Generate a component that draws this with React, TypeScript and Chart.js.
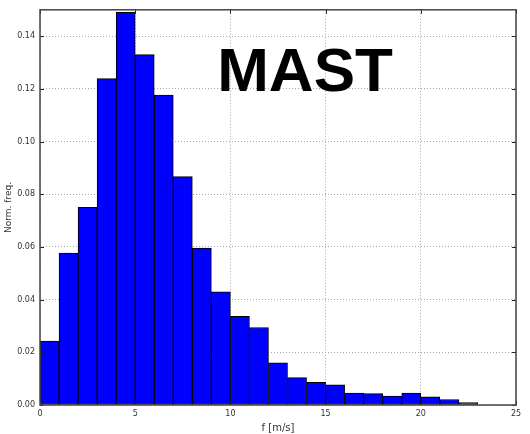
import React, { useEffect, useRef } from "react";
import { Chart, registerables } from "chart.js";

Chart.register(...registerables);

// Histogram bins: [start, start+1) in m/s
const binStarts = [0, 1, 2, 3, 4, 5, 6, 7, 8, 9, 10, 11, 12, 13, 14, 15, 16, 17, 18, 19, 20, 21, 22];
const normFreq = [
  0.0243, 0.0577, 0.075, 0.1239, 0.149, 0.133, 0.1176, 0.0867, 0.0596, 0.043,
  0.0337, 0.0294, 0.016, 0.0104, 0.0086, 0.0077, 0.0045, 0.0043, 0.0034, 0.0045,
  0.0031, 0.0021, 0.0009,
];
const xTickValues = [0, 5, 10, 15, 20, 25];
const yTickValues = [0, 0.02, 0.04, 0.06, 0.08, 0.1, 0.12, 0.14];
const xRange = [0, 25];
const yRange = [0, 0.15];
const xTitle = "f [m/s]";
const yTitle = "Norm. freq.";
const labelText = "MAST";
const labelPos = { x: 13.92, y: 0.1192 };

const framePlugin = {
  id: "frameAndLabel",
  afterDatasetsDraw(chart: any) {
    const { ctx, chartArea } = chart;
    const xs = chart.scales.x;
    const ys = chart.scales.y;
    const { left, right, top, bottom } = chartArea;
    ctx.save();
    // inward tick marks
    ctx.strokeStyle = "#222";
    ctx.lineWidth = 1;
    ctx.beginPath();
    for (const v of yTickValues) {
      const p = Math.round(ys.getPixelForValue(v)) + 0.5;
      ctx.moveTo(left, p);
      ctx.lineTo(left + 4, p);
      ctx.moveTo(right, p);
      ctx.lineTo(right - 4, p);
    }
    for (const v of xTickValues) {
      const p = Math.round(xs.getPixelForValue(v)) + 0.5;
      ctx.moveTo(p, bottom);
      ctx.lineTo(p, bottom - 4);
      ctx.moveTo(p, top);
      ctx.lineTo(p, top + 4);
    }
    ctx.stroke();
    // frame
    ctx.strokeStyle = "#444";
    ctx.lineWidth = 1.5;
    ctx.strokeRect(left, top, right - left, bottom - top);
    // big label
    ctx.fillStyle = "#000";
    ctx.font = "bold 62px 'Liberation Sans', Arial, sans-serif";
    ctx.textAlign = "center";
    ctx.textBaseline = "alphabetic";
    ctx.fillText(labelText, xs.getPixelForValue(labelPos.x), ys.getPixelForValue(labelPos.y));
    ctx.restore();
  },
};

export default function App() {
  const canvasRef = useRef<HTMLCanvasElement | null>(null);

  useEffect(() => {
    if (!canvasRef.current) return;
    Chart.defaults.font.family = "'DejaVu Sans', sans-serif";
    const chart = new Chart(canvasRef.current, {
      type: "bar",
      data: {
        datasets: [
          {
            data: binStarts.map((s, i) => ({ x: s + 0.5, y: normFreq[i] })),
            backgroundColor: "#0000ff",
            borderColor: "#000000",
            borderWidth: 1,
            borderSkipped: false,
            barPercentage: 1,
            categoryPercentage: 1,
          },
        ],
      },
      options: {
        responsive: false,
        animation: false,
        layout: { padding: { top: 7, right: 14, left: 0, bottom: 0 } },
        plugins: { legend: { display: false }, tooltip: { enabled: false } },
        scales: {
          x: {
            type: "linear",
            offset: false,
            min: xRange[0],
            max: xRange[1],
            afterBuildTicks: (s: any) => {
              s.ticks = xTickValues.map((v) => ({ value: v }));
            },
            afterFit: (s: any) => {
              s.height = 29;
            },
            grid: {
              color: "#a8a8a8",
              lineWidth: 1,
              drawTicks: false,
              offset: false,
            },
            border: { display: false, dash: [1, 2] },
            ticks: {
              padding: 4,
              color: "#333",
              font: { size: 8 },
              maxRotation: 0,
              callback: (v: any) => String(v),
            },
            title: {
              display: true,
              text: xTitle,
              color: "#333",
              font: { size: 10 },
              padding: { top: 0, bottom: 0 },
            },
          },
          y: {
            type: "linear",
            min: yRange[0],
            max: yRange[1],
            afterBuildTicks: (s: any) => {
              s.ticks = yTickValues.map((v) => ({ value: v }));
            },
            afterFit: (s: any) => {
              s.width = 40;
            },
            grid: {
              color: "#a8a8a8",
              lineWidth: 1,
              drawTicks: false,
            },
            border: { display: false, dash: [1, 2] },
            ticks: {
              padding: 5,
              color: "#333",
              font: { size: 8 },
              callback: (v: any) => Number(v).toFixed(2),
            },
            title: {
              display: true,
              text: yTitle,
              color: "#333",
              font: { size: 9 },
              padding: { top: 3, bottom: 0 },
            },
          },
        },
      },
      plugins: [framePlugin],
    } as any);
    return () => chart.destroy();
  }, []);

  return (
    <div style={{ position: "absolute", left: 0, top: 0, width: 530, height: 434, background: "#fff" }}>
      <canvas ref={canvasRef} width={530} height={434} />
    </div>
  );
}
